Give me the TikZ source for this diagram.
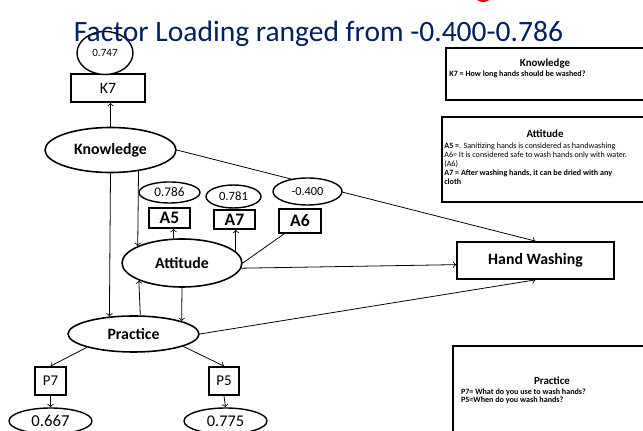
\documentclass[tikz,border=0pt]{standalone}
\usepackage{fontspec}
\setmainfont{Carlito}
\usetikzlibrary{shapes.geometric,backgrounds}

\definecolor{titleblue}{RGB}{0,32,96}

\tikzset{
	latent/.style={ellipse, draw, line width=0.9pt, fill=white, inner sep=0pt, font=\bfseries\fontsize{9}{10}\selectfont},
	loading/.style={ellipse, draw, line width=0.8pt, fill=white, inner sep=0pt},
	item/.style={rectangle, draw, line width=1pt, fill=white, inner sep=0pt},
	conn/.style={->, line width=0.45pt},
	infobox/.style={line width=1.1pt},
	infohead/.style={anchor=base, inner sep=0pt, font=\bfseries\fontsize{6.2}{7}\selectfont},
	infotext/.style={anchor=north west, inner sep=0pt, align=left, font=\fontsize{4.6}{4.5}\selectfont}
}

\begin{document}
\begin{tikzpicture}[x=0.02cm,y=-0.02cm]

	\useasboundingbox (0,0) rectangle (643,431);
	\clip (0,0) rectangle (643,431);

	% latent variables
	\node[latent, minimum width=2.62cm, minimum height=0.9cm] (know) at (110.5,150) {Knowledge};
	\node[latent, minimum width=2.4cm, minimum height=0.96cm] (att) at (182,263) {Attitude};
	\node[latent, minimum width=2.62cm, minimum height=0.72cm] (prac) at (133.5,334) {Practice};
	\node[item, minimum width=3.14cm, minimum height=0.74cm, font=\bfseries\fontsize{9}{10}\selectfont] (hw) at (535.5,260.5) {Hand Washing};

	% items and loadings
	\node[item, minimum width=1.48cm, minimum height=0.56cm, font=\fontsize{9}{10}\selectfont] (k7) at (108,88) {K7};
	\node[loading, minimum width=1.12cm, minimum height=0.86cm, font=\fontsize{6.3}{7}\selectfont] (l747) at (105,53) {0.747};

	\node[item, minimum width=0.82cm, minimum height=0.4cm, font=\bfseries\fontsize{10}{11}\selectfont] (a5) at (169.5,218) {A5};
	\node[item, minimum width=0.82cm, minimum height=0.38cm, font=\bfseries\fontsize{10}{11}\selectfont] (a7) at (234.5,219.5) {A7};
	\node[item, minimum width=0.84cm, minimum height=0.48cm, font=\bfseries\fontsize{10}{11}\selectfont] (a6) at (300,221) {A6};
	\node[loading, minimum width=1.22cm, minimum height=0.42cm, font=\fontsize{7.5}{8}\selectfont] (l786) at (169.5,192.5) {0.786};
	\node[loading, minimum width=1.1cm, minimum height=0.46cm, font=\fontsize{7.2}{8}\selectfont] (l781) at (233.5,196.5) {0.781};

	\node[item, minimum width=0.62cm, minimum height=0.56cm, font=\fontsize{8.5}{9}\selectfont] (p7) at (50.5,381) {P7};
	\node[item, minimum width=0.6cm, minimum height=0.56cm, font=\fontsize{8.5}{9}\selectfont] (p5) at (224,381) {P5};
	\node[loading, minimum width=1.66cm, minimum height=0.52cm, font=\fontsize{9.5}{10}\selectfont] (l667) at (50.5,421) {0.667};
	\node[loading, minimum width=1.66cm, minimum height=0.52cm, font=\fontsize{9.3}{10}\selectfont] (l775) at (225.5,421) {0.775};

	\begin{scope}[on background layer]
		\draw[conn] (know.north) -- (know.north |- k7.south);
		\draw[conn] (know.east) -- (hw.north);
		\draw[conn] (know.south) -- (prac.144);
		\draw[conn] (know.323) -- (att.159);
		\draw[conn] (att.109) -- (att.109 |- a5.south);
		\draw[conn] (att.12) -- (att.12 |- a7.south);
		\draw[line width=0.45pt] (att.east) -- (a6.219);
		\draw[conn] (att.355) -- (hw.183);
		\draw[conn] (prac.70) -- (att.202);
		\draw[conn] (att.south) -- (prac.15);
		\draw[conn] (prac.east) -- (hw.south);
		\draw[conn] (prac.196) -- (p7.north);
		\draw[conn] (prac.346) -- (p5.north);
		\draw[conn] (p7.south) -- (l667.north);
		\draw[conn] (p5.south) -- (l775.north);
	\end{scope}

	% drawn after the path from Knowledge, which runs behind it
	\node[loading, minimum width=1.38cm, minimum height=0.54cm, font=\fontsize{7}{8}\selectfont] (l400) at (307.5,191.5) {-0.400};

	% headings, on top of the 0.747 ellipse
	\node[anchor=base west, inner sep=0pt, text=red, font=\fontsize{20}{24}\selectfont] (redg) at (475,-3) {g};
	\node[anchor=base, inner sep=0pt, text=titleblue, font=\fontsize{16.8}{20}\selectfont] (title) at (318.5,42) {Factor Loading ranged from -0.400-0.786};

	% notes
	\draw[infobox] (446,48) rectangle (660,100);
	\node[infohead] (kinfo) at (545,66.5) {Knowledge};
	\node[infotext, font=\bfseries\fontsize{4.6}{4.5}\selectfont] (ktext) at (449,70.5) {K7 = How long hands should be washed?};

	\draw[infobox] (442,117) rectangle (660,202);
	\node[infohead] (ainfo) at (545,138) {Attitude};
	\node[infotext] (atext) at (444,142.5) {\textbf{A5 =}. Sanitizing hands is considered as handwashing\\[0.7pt]
		A6= It is considered safe to wash hands only with water.\\[0.7pt]
		(A6)\\[0.7pt]
		\textbf{A7 = After washing hands, it can be dried with any}\\[0.7pt]
		\textbf{cloth}};

	\draw[infobox] (453,346) rectangle (660,440);
	\node[infohead] (pinfo) at (552,385) {Practice};
	\node[infotext, font=\bfseries\fontsize{4.6}{4.5}\selectfont] (ptext) at (460.7,388) {P7= What do you use to wash hands?\\[0.6pt]
		P5=When do you wash hands?};

\end{tikzpicture}
\end{document}
